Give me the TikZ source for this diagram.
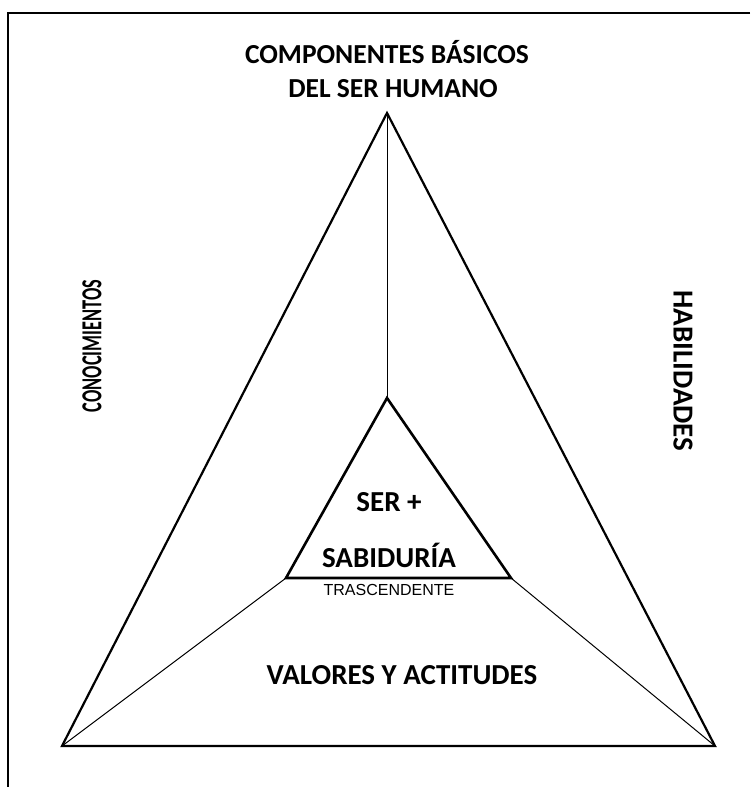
\documentclass[tikz,border=0pt]{standalone}
\usepackage{fontspec}
\setmainfont{Carlito}
\newfontfamily\arialf{Liberation Sans}
\begin{document}
\begin{tikzpicture}[x=1pt,y=-1pt,
  lbl/.style={font=\fontsize{29}{37}\selectfont\bfseries, inner sep=0pt, align=center},
  ttl/.style={font=\fontsize{27.5}{37}\selectfont\bfseries, inner sep=0pt, align=center},
  small/.style={font=\arialf\fontsize{16}{18}\selectfont, inner sep=0pt},
  outer/.style={line width=2.2pt, line join=miter},
  inner/.style={line width=2.6pt, line join=miter},
  thin/.style={line width=1pt}]
\useasboundingbox (0,0) rectangle (750,787);
\draw[line width=2.4pt] (750,13) -- (8,13) -- (8,787);
\coordinate (A) at (387,113);
\coordinate (B) at (62,746);
\coordinate (C) at (715,746);
\coordinate (a) at (387,398);
\coordinate (b) at (286,578);
\coordinate (c) at (511,578);
\draw[outer] (A) -- (B) -- (C) -- cycle;
\draw[inner] (a) -- (b) -- (c) -- cycle;
\draw[thin] (A) -- (a);
\draw[thin] (B) -- (b);
\draw[thin] (C) -- (c);
\node[ttl] (t1) at (387,52) {COMPONENTES BÁSICOS};
\node[ttl] (t2) at (393,89) {DEL SER HUMANO};
\node[lbl, rotate=90] (k) at (92,346) {\scalebox{0.63}[1]{CONOCIMIENTOS}};
\node[lbl, rotate=-90] (h) at (683,371) {HABILIDADES};
\node[lbl] (s1) at (389,502) {SER +};
\node[lbl] (s2) at (389,555) {SABIDURÍA};
\node[small] (tr) at (389,590) {TRASCENDENTE};
\node[lbl] (v) at (402,675) {VALORES Y ACTITUDES};
\end{tikzpicture}
\end{document}
